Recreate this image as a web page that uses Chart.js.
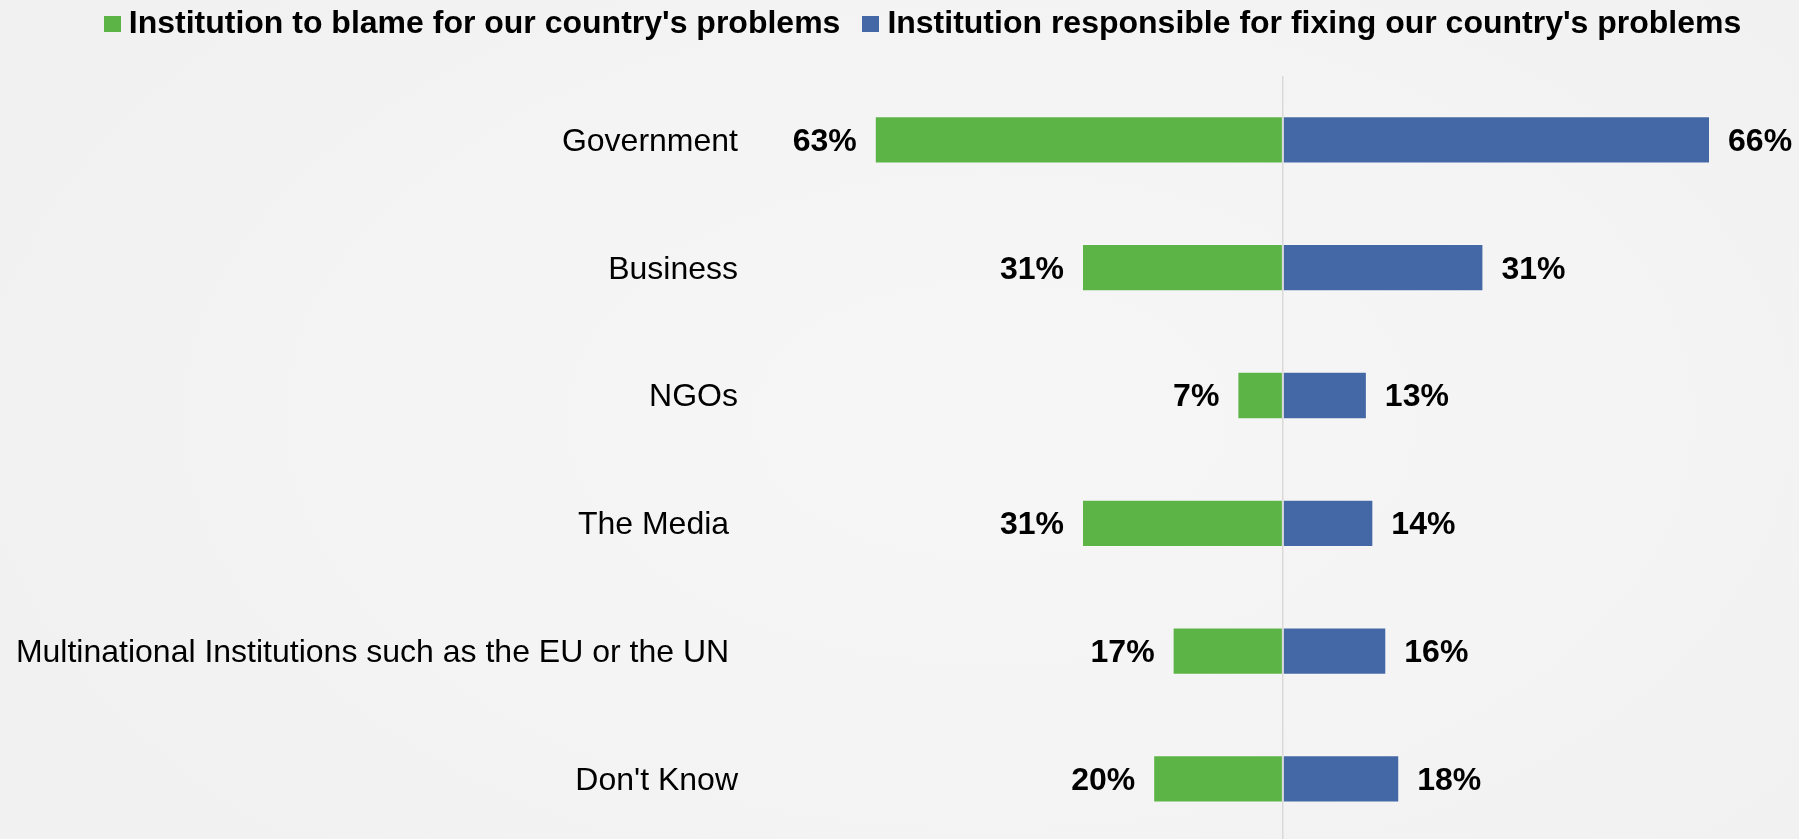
<!DOCTYPE html>
<html>
<head>
<meta charset="utf-8">
<script src="https://cdn.jsdelivr.net/npm/chart.js@4/dist/chart.umd.min.js"></script>
<style>
  html, body { margin: 0; padding: 0; overflow: hidden; width: 1799px; height: 839px;
    background: radial-gradient(ellipse 60% 75% at 55% 50%, #f6f6f6 0%, #f4f4f4 55%, #f1f1f1 100%); }
  #c { position: absolute; left: 0; top: -22px; }
</style>
</head>
<body>
<canvas id="c" width="1853" height="894"></canvas>
<script>
const categories = ['Government', 'Business', 'NGOs', 'The Media ', 'Multinational Institutions such as the EU or the UN ', "Don't Know"];
const blameValues = [63, 31, 7, 31, 17, 20];
const fixingValues = [66, 31, 13, 14, 16, 18];
const seriesNames = ["Institution to blame for our country's problems", "Institution responsible for fixing our country's problems"];
const seriesColors = ['#5cb346', '#4468a5'];

const FONT = "'Liberation Sans', Arial, sans-serif";

// legend swatches (17x16 squares)
const legendSwatches = seriesColors.map(col => {
  const cv = document.createElement('canvas');
  cv.width = 17; cv.height = 16;
  const g = cv.getContext('2d');
  g.fillStyle = col; g.fillRect(0, 0, 17, 16);
  return cv;
});

const valueLabels = {
  id: 'valueLabels',
  afterDatasetsDraw(chart) {
    const ctx = chart.ctx;
    ctx.save();
    ctx.font = 'bold 32px ' + FONT;
    ctx.fillStyle = '#000';
    ctx.textBaseline = 'middle';
    chart.data.datasets.forEach((ds, di) => {
      const meta = chart.getDatasetMeta(di);
      meta.data.forEach((bar, i) => {
        const v = ds.data[i];
        const txt = Math.abs(v) + '%';
        if (v < 0) { ctx.textAlign = 'right'; ctx.fillText(txt, bar.x - 18, bar.y + 2); }
        else { ctx.textAlign = 'left'; ctx.fillText(txt, bar.x + 18, bar.y + 2); }
      });
    });
    ctx.restore();
  }
};

new Chart(document.getElementById('c'), {
  type: 'bar',
  data: {
    labels: categories,
    datasets: [
      { label: seriesNames[0], data: blameValues.map(v => -v), backgroundColor: seriesColors[0],
        borderColor: 'rgba(255,255,255,0.3)', borderWidth: 1 },
      { label: seriesNames[1], data: fixingValues, backgroundColor: seriesColors[1],
        borderColor: 'rgba(255,255,255,0.3)', borderWidth: 1 }
    ]
  },
  options: {
    indexAxis: 'y',
    responsive: false,
    animation: false,
    layout: { padding: 0 },
    datasets: { bar: { categoryPercentage: 1, barPercentage: 0.37 } },
    scales: {
      x: {
        stacked: true,
        min: -82.58, max: 88.08,
        afterBuildTicks: s => { s.ticks = [{ value: 0 }]; },
        ticks: { display: false },
        border: { display: false },
        grid: { drawTicks: false, color: '#d9d9d9', lineWidth: 1.5, z: 1 }
      },
      y: {
        stacked: true,
        afterFit: s => { s.width = 748; },
        border: { display: false },
        grid: { display: false, drawTicks: false },
        ticks: { padding: 10, labelOffset: 2, color: '#000', font: { family: FONT, size: 32 } }
      }
    },
    plugins: {
      tooltip: { enabled: false },
      legend: {
        position: 'top',
        labels: {
          usePointStyle: true, boxWidth: 1, boxHeight: 16, padding: 30, color: '#000',
          font: { family: FONT, size: 32, weight: 'bold' },
          generateLabels: chart => Chart.defaults.plugins.legend.labels.generateLabels(chart)
            .map((it, i) => Object.assign({}, it, { pointStyle: legendSwatches[i], lineWidth: 0 }))
        }
      },
      title: { display: true, text: '', weight: 500, padding: { top: 0, bottom: 16 },
        font: { size: 10, lineHeight: 1 } }
    }
  },
  plugins: [valueLabels]
});
</script>
</body>
</html>
